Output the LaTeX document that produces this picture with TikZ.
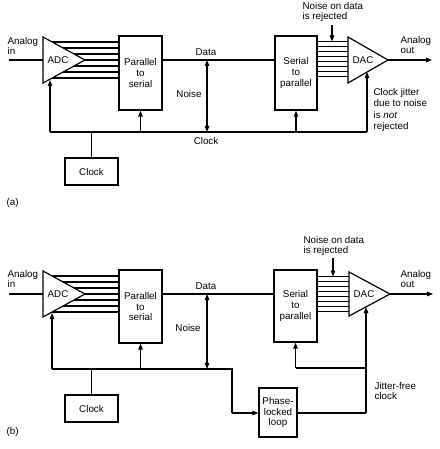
\documentclass[tikz,border=0pt]{standalone}
\usepackage{fontspec}
\setmainfont{Liberation Sans}
\usetikzlibrary{arrows.meta,calc}
\begin{document}
\begin{tikzpicture}[x=1pt,y=-1pt, line width=1.2pt,
  lbl/.style={font=\fontsize{9.8}{10.8}\selectfont, inner sep=0pt, align=center},
  lbll/.style={lbl, align=left, anchor=west},
  blk/.style={draw, rectangle, inner sep=0pt, font=\fontsize{9.8}{10.8}\selectfont, align=center},
  arr/.style={-{Triangle[length=6pt,width=4.5pt]}},
  darr/.style={{Triangle[length=6pt,width=4.5pt]}-{Triangle[length=6pt,width=4.5pt]}},
]
\useasboundingbox (0,0) rectangle (439,449);
% ---------------- panel (a) ----------------
\node[lbll] (ain) at (7,46) {Analog\\in};
\coordinate (inA) at (9,60);
\coordinate (adcT) at (43,37);
\coordinate (adcB) at (43,83);
\coordinate (adcA) at (85,60);
\draw (adcT) -- (adcA) -- (adcB) -- cycle;
\node[lbl] (adc) at (58,60) {ADC};
\draw (inA) -- (adcT |- adcA);
\node[blk, minimum width=43pt, minimum height=74pt] (ps) at (140.5,73) {Parallel\\to\\serial};
\foreach \t in {0.217,0.478,0.739,1}{\draw ($(adcT)!\t!(adcA)$) coordinate (q) -- (q -| ps.west);}
\foreach \t in {0.217,0.478,0.739}{\draw ($(adcB)!\t!(adcA)$) coordinate (q) -- (q -| ps.west);}
\node[blk, minimum width=42pt, minimum height=74pt] (sp) at (296,73) {Serial\\to\\parallel};
\draw (ps.east |- adcA) -- (sp.west |- adcA);
\node[lbl] (data) at (206,52) {Data};
\coordinate (dacT) at (348,37);
\coordinate (dacB) at (348,83);
\coordinate (dacA) at (388,60);
\draw (dacT) -- (dacA) -- (dacB) -- cycle;
\node[lbl] (dac) at (363,60) {DAC};
\foreach \y in {41.5,46.5,...,76.5}{\draw (sp.east |- 0,\y) -- (dacT |- 0,\y);}
\coordinate (aout) at (432,60);
\draw[arr] (dacA) -- (aout);
\node[lbll] (aoutl) at (400,45) {Analog\\out};
\node[lbll] (rej) at (302,12) {Noise on data\\is rejected};
\coordinate (rejs) at (332,25);
\draw[arr] (rejs) -- (332,41.5);
\coordinate (b1) at (50,132);
\coordinate (b2) at (367,132);
\draw (b1) -- (b2);
\draw[arr] (b1) -- (50,80);
\draw[arr] (ps.south |- b1) -- (ps.south);
\draw[arr] (sp.south |- b1) -- (sp.south);
\draw[arr] (b2) -- (367,72);
\node[blk, minimum width=53pt, minimum height=27pt] (clk) at (91.5,171.5) {Clock};
\draw (clk.north) -- (clk.north |- b1);
\node[lbl] (clkl) at (206,141) {Clock};
\draw[darr] (207,60) -- (207,132);
\node[lbl] (noise) at (189,94) {Noise};
\node[lbll, font=\fontsize{9.8}{11.3}\selectfont] (jit) at (373,110) {Clock jitter\\due to noise\\is \textit{not}\\rejected};
\node[lbll] (pa) at (6,203) {(a)};
% ---------------- panel (b) ----------------
\node[lbll] (ain2) at (7,279) {Analog\\in};
\coordinate (inB) at (9,294);
\coordinate (adc2T) at (43,271);
\coordinate (adc2B) at (43,317);
\coordinate (adc2A) at (85,294);
\draw (adc2T) -- (adc2A) -- (adc2B) -- cycle;
\node[lbl] (adc2) at (58,294) {ADC};
\draw (inB) -- (adc2T |- adc2A);
\node[blk, minimum width=43pt, minimum height=73pt] (ps2) at (140.5,306.5) {Parallel\\to\\serial};
\foreach \t in {0.217,0.478,0.739,1}{\draw ($(adc2T)!\t!(adc2A)$) coordinate (q) -- (q -| ps2.west);}
\foreach \t in {0.217,0.478,0.739}{\draw ($(adc2B)!\t!(adc2A)$) coordinate (q) -- (q -| ps2.west);}
\node[blk, minimum width=43pt, minimum height=72pt] (sp2) at (295.5,306) {Serial\\to\\parallel};
\draw (ps2.east |- adc2A) -- (sp2.west |- adc2A);
\node[lbl] (data2) at (206,286) {Data};
\coordinate (dac2T) at (349,272);
\coordinate (dac2B) at (349,316);
\coordinate (dac2A) at (390,294);
\draw (dac2T) -- (dac2A) -- (dac2B) -- cycle;
\node[lbl] (dac2) at (364,294) {DAC};
\foreach \y in {276.5,281.5,...,311.5}{\draw (sp2.east |- 0,\y) -- (dac2T |- 0,\y);}
\coordinate (aout2) at (433,294);
\draw[arr] (dac2A) -- (aout2);
\node[lbll] (aoutl2) at (400,279) {Analog\\out};
\node[lbll] (rej2) at (303,246) {Noise on data\\is rejected};
\coordinate (rej2s) at (333,258);
\draw[arr] (rej2s) -- (333,276.5);
\coordinate (c1) at (52,369);
\coordinate (c2) at (232,369);
\coordinate (c3) at (232,413);
\node[blk, minimum width=38pt, minimum height=49pt] (pll) at (278,412.5) {Phase-\\locked\\loop};
\draw (c1) -- (c2) -- (c3);
\draw[arr] (c3) -- (pll.west |- c3);
\draw[arr] (c1) -- (52,313);
\draw[arr] (ps2.south |- c1) -- (ps2.south);
\node[blk, minimum width=53pt, minimum height=27pt] (clk2) at (91.5,408.5) {Clock};
\draw (clk2.north) -- (clk2.north |- c1);
\draw[darr] (207,294) -- (207,369);
\node[lbl] (noise2) at (188,328) {Noise};
\node[lbll] (pb) at (6,432) {(b)};
\coordinate (d1) at (366,413);
\coordinate (d2) at (366,368);
\draw (pll.east |- d1) -- (d1);
\draw[arr] (d1) -- (366,307);
\draw (d2) -- (sp2.south |- d2);
\draw[arr] (sp2.south |- d2) -- (sp2.south);
\node[lbll] (jf) at (374,391) {Jitter-free\\clock};
\end{tikzpicture}
\end{document}
